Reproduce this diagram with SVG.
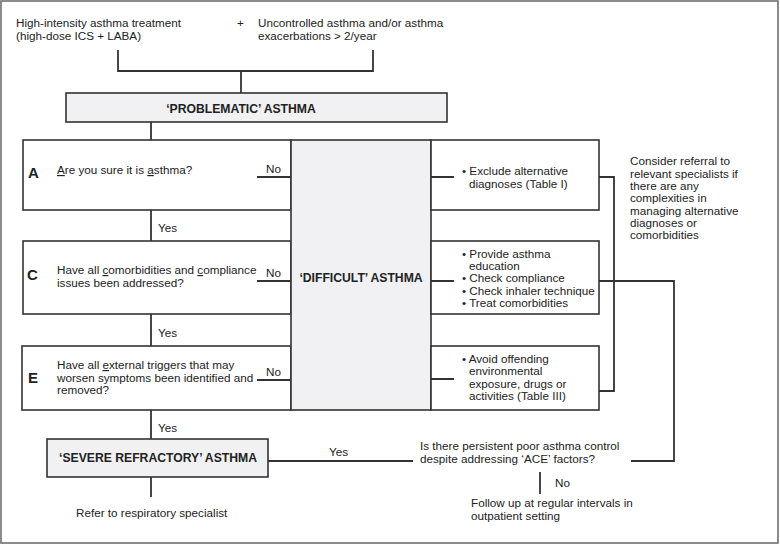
<svg xmlns="http://www.w3.org/2000/svg" width="780" height="544" viewBox="0 0 780 544">
<style>
text{font-family:"Liberation Sans",Arial,sans-serif;font-size:11.7px;fill:#222}
.b{font-weight:bold;font-size:12.2px}
.L{font-weight:bold;font-size:15px}
.box{fill:#fff;stroke:#333;stroke-width:1.6}
.g{fill:#f1f1f3;stroke:#333;stroke-width:1.6}
.c{fill:none;stroke:#333;stroke-width:1.8}
.u{text-decoration:underline}
</style>
<rect x="1" y="1" width="777" height="542" fill="#fff" stroke="#666" stroke-width="1.5"/>
<g id="inputs">
<text x="16" y="27">High-intensity asthma treatment</text>
<text x="16" y="40">(high-dose ICS + LABA)</text>
<text x="237" y="27">+</text>
<text x="258" y="27">Uncontrolled asthma and/or asthma</text>
<text x="258" y="40">exacerbations &gt; 2/year</text>
</g>
<g id="problematic">
<rect class="g" x="66" y="93" width="381" height="29"/>
<text class="b" x="241" y="113" text-anchor="middle">‘PROBLEMATIC’ ASTHMA</text>
</g>
<g id="boxA">
<rect class="box" x="23" y="140" width="268" height="70"/>
<text class="L" x="28" y="178">A</text>
<text x="57" y="174"><tspan class="u">A</tspan>re you sure it is <tspan class="u">a</tspan>sthma?</text>
<text x="266" y="173">No</text>
</g>
<g id="boxC">
<rect class="box" x="23" y="241" width="268" height="73"/>
<text class="L" x="27" y="280">C</text>
<text x="57" y="274">Have all <tspan class="u">c</tspan>omorbidities and <tspan class="u">c</tspan>ompliance</text>
<text x="57" y="287">issues been addressed?</text>
<text x="266" y="277">No</text>
</g>
<g id="boxE">
<rect class="box" x="22" y="346" width="269" height="64"/>
<text class="L" x="28" y="383">E</text>
<text x="57" y="369">Have all <tspan class="u">e</tspan>xternal triggers that may</text>
<text x="57" y="382">worsen symptoms been identified and</text>
<text x="57" y="394">removed?</text>
<text x="266" y="376">No</text>
</g>
<g id="yes-labels">
<text x="158" y="232">Yes</text>
<text x="158" y="337">Yes</text>
<text x="158" y="432">Yes</text>
</g>
<g id="difficult">
<rect class="g" x="291" y="140" width="140" height="270"/>
<text class="b" x="361" y="282" text-anchor="middle">‘DIFFICULT’ ASTHMA</text>
</g>
<g id="actionA">
<rect class="box" x="431" y="140" width="168" height="70"/>
<text x="462" y="175">• Exclude alternative</text>
<text x="469" y="188">diagnoses (Table I)</text>
</g>
<g id="actionC">
<rect class="box" x="431" y="241" width="168" height="73"/>
<text x="462" y="258">• Provide asthma</text>
<text x="469" y="270">education</text>
<text x="462" y="282">• Check compliance</text>
<text x="462" y="295">• Check inhaler technique</text>
<text x="462" y="307">• Treat comorbidities</text>
</g>
<g id="actionE">
<rect class="box" x="431" y="346" width="168" height="64"/>
<text x="462" y="363">• Avoid offending</text>
<text x="469" y="375">environmental</text>
<text x="469" y="388">exposure, drugs or</text>
<text x="469" y="400">activities (Table III)</text>
</g>
<g id="referral-note">
<text x="630" y="165">Consider referral to</text>
<text x="630" y="178">relevant specialists if</text>
<text x="630" y="190">there are any</text>
<text x="630" y="202">complexities in</text>
<text x="630" y="215">managing alternative</text>
<text x="630" y="227">diagnoses or</text>
<text x="630" y="239">comorbidities</text>
</g>
<g id="severe">
<rect class="g" x="47" y="439" width="221" height="38"/>
<text class="b" x="158" y="462" text-anchor="middle">‘SEVERE REFRACTORY’ ASTHMA</text>
</g>
<g id="refer">
<text x="76" y="517">Refer to respiratory specialist</text>
</g>
<g id="question">
<text x="329" y="456">Yes</text>
<text x="420" y="450">Is there persistent poor asthma control</text>
<text x="420" y="463">despite addressing ‘ACE’ factors?</text>
<text x="555" y="487">No</text>
</g>
<g id="followup">
<text x="471" y="507">Follow up at regular intervals in</text>
<text x="471" y="520">outpatient setting</text>
</g>
<g id="connectors">
<path class="c" d="M118 50V71H373V50M241 71V93"/>
<path class="c" d="M151 122V140M151 210V241M151 314V346M151 410V439M151 477V497"/>
<path class="c" d="M257 177H291M257 281H291M257 380H291"/>
<path class="c" d="M431 177H454M431 281H454M431 379H454"/>
<path class="c" d="M599 177H614V391H599"/>
<path class="c" d="M599 281H674V461H631"/>
<path class="c" d="M268 461H413"/>
<path class="c" d="M540 472V494"/>
</g>
</svg>
